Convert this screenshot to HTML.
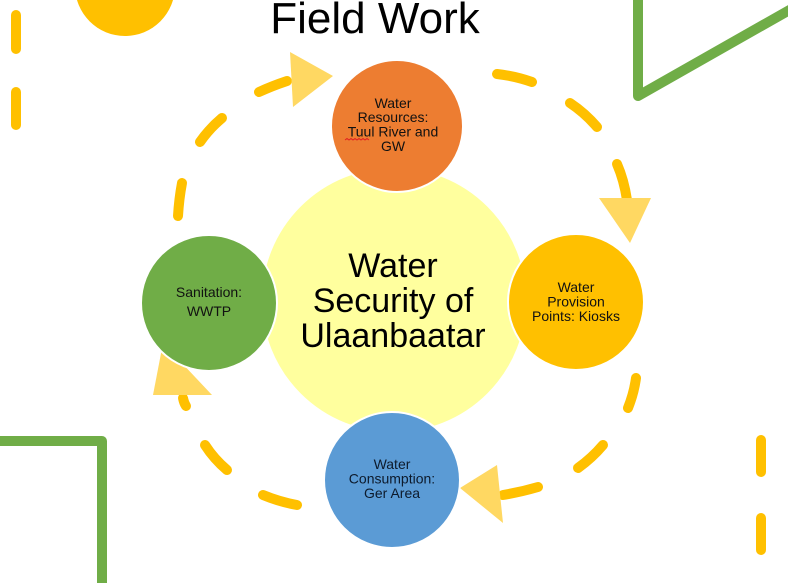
<!DOCTYPE html>
<html>
<head>
<meta charset="utf-8">
<style>
  html, body { margin: 0; padding: 0; background: #ffffff; }
  body { width: 788px; height: 583px; overflow: hidden; }
  svg { display: block; }
  text { font-family: "Liberation Sans", Arial, sans-serif; }
</style>
</head>
<body>
<svg width="788" height="583" viewBox="0 0 788 583" xmlns="http://www.w3.org/2000/svg">
  <rect width="788" height="583" fill="#ffffff"/>

  <!-- decorative top-left gold circle -->
  <circle cx="125" cy="-14" r="50" fill="#FFC000"/>

  <!-- left vertical dashes -->
  <g stroke="#FFC000" stroke-width="10" stroke-linecap="round" fill="none">
    <line x1="16" y1="15" x2="16" y2="49"/>
    <line x1="16" y1="92" x2="16" y2="125"/>
    <!-- right bottom vertical dashes -->
    <line x1="761" y1="440" x2="761" y2="472"/>
    <line x1="761" y1="518" x2="761" y2="550"/>
  </g>

  <!-- green decorative shapes -->
  <g stroke="#70AD47" stroke-width="10" fill="none" stroke-linejoin="round" stroke-linecap="round">
    <path d="M638,-10 L638,96 L800,4"/>
    <path d="M-10,441 L102,441 L102,600" stroke-linecap="butt"/>
  </g>

  <!-- Title -->
  <text x="375" y="33" font-size="44" text-anchor="middle" fill="#000">Field Work</text>

  <!-- dashed arcs -->
  <g stroke="#FFC000" stroke-width="10" stroke-linecap="round" fill="none">
    <!-- top-left arc -->
    <path d="M259,92 Q272,86 287,81"/>
    <path d="M222,118 Q209,129 200,142"/>
    <path d="M182,183 Q179,199 178,216"/>
    <!-- top-right arc -->
    <path d="M497,74 Q515,76 532,82"/>
    <path d="M570,103 Q585,113 597,127"/>
    <path d="M617,164 Q624,180 627,200"/>
    <!-- bottom-right arc -->
    <path d="M636,378 Q634,393 628,408"/>
    <path d="M603,445 Q592,458 578,468"/>
    <path d="M538,487 Q521,492 503,495"/>
    <!-- bottom-left arc -->
    <path d="M183,398 Q184,403 186,406"/>
    <path d="M205,445 Q214,459 227,470"/>
    <path d="M263,495 Q280,502 297,505"/>
  </g>

  <!-- arrowheads -->
  <g fill="#FFD862">
    <polygon points="290,52 333,76 293,107"/>
    <polygon points="599,198 651,198 630,243"/>
    <polygon points="460,488 497,465 503,523"/>
    <polygon points="163,343 153,395 212,395"/>
  </g>

  <!-- big center circle -->
  <circle cx="394" cy="300" r="133" fill="#FFFF9E" stroke="#ffffff" stroke-width="2"/>

  <!-- satellite circles -->
  <circle cx="397" cy="126" r="66" fill="#ED7D31" stroke="#ffffff" stroke-width="2"/>
  <circle cx="576" cy="302" r="68" fill="#FFC000" stroke="#ffffff" stroke-width="2"/>
  <circle cx="209" cy="303" r="68" fill="#70AD47" stroke="#ffffff" stroke-width="2"/>
  <circle cx="392" cy="480" r="68" fill="#5B9BD5" stroke="#ffffff" stroke-width="2"/>

  <!-- center text -->
  <g font-size="34" text-anchor="middle" fill="#000">
    <text x="393" y="277">Water</text>
    <text x="393" y="312">Security of</text>
    <text x="393" y="347">Ulaanbaatar</text>
  </g>

  <!-- orange text -->
  <g font-size="14" text-anchor="middle" fill="#111">
    <text x="393" y="108">Water</text>
    <text x="393" y="122">Resources:</text>
    <text x="393" y="136.5">Tuul River and</text>
    <text x="393" y="151">GW</text>
  </g>
  <path d="M345,140 l2,-1.5 l2,1.5 l2,-1.5 l2,1.5 l2,-1.5 l2,1.5 l2,-1.5 l2,1.5 l2,-1.5 l2,1.5 l2,-1.5 l2,1.5" stroke="#E02020" stroke-width="1" fill="none"/>

  <!-- kiosk text -->
  <g font-size="14" text-anchor="middle" fill="#111">
    <text x="576" y="292">Water</text>
    <text x="576" y="306.5">Provision</text>
    <text x="576" y="321">Points: Kiosks</text>
  </g>

  <!-- sanitation text -->
  <g font-size="14" text-anchor="middle" fill="#111">
    <text x="209" y="297">Sanitation:</text>
    <text x="209" y="316">WWTP</text>
  </g>

  <!-- consumption text -->
  <g font-size="14" text-anchor="middle" fill="#0d1a2b">
    <text x="392" y="469">Water</text>
    <text x="392" y="483.5">Consumption:</text>
    <text x="392" y="498">Ger Area</text>
  </g>
</svg>
</body>
</html>
